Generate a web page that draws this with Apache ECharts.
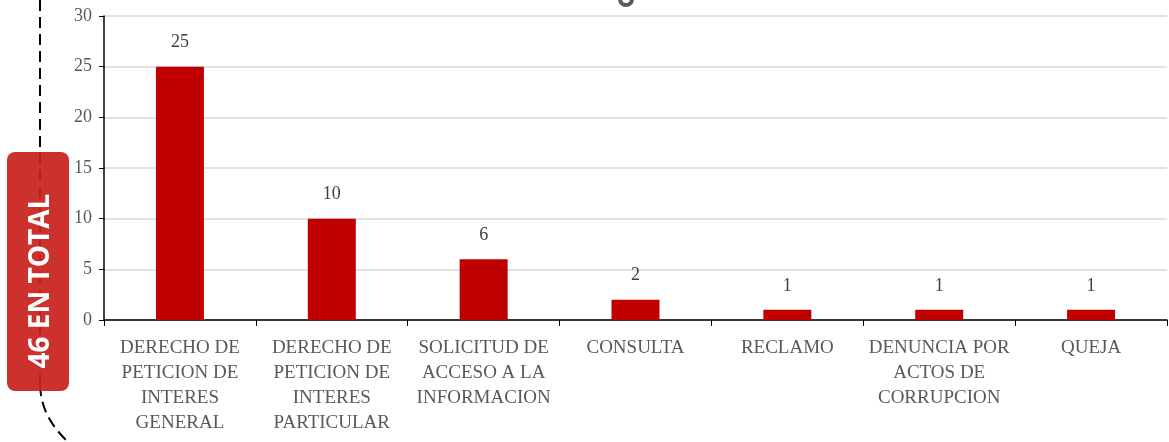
<!DOCTYPE html>
<html>
<head>
<meta charset="utf-8">
<script src="https://cdn.jsdelivr.net/npm/echarts@6/dist/echarts.min.js"></script>
<style>
  html, body { margin: 0; padding: 0; background: #fff; }
  #chart { width: 1169px; height: 442px; }
</style>
</head>
<body>
<div id="chart"></div>
<script>
let categories = [
  'DERECHO DE\nPETICION DE\nINTERES\nGENERAL',
  'DERECHO DE\nPETICION DE\nINTERES\nPARTICULAR',
  'SOLICITUD DE\nACCESO A LA\nINFORMACION',
  'CONSULTA',
  'RECLAMO',
  'DENUNCIA POR\nACTOS DE\nCORRUPCION',
  'QUEJA'
]
let values = [25, 10, 6, 2, 1, 1, 1]
let totalText = '46 EN TOTAL'

let myChart = echarts.init(document.getElementById('chart'))
myChart.setOption({
  animation: false,
  grid: {
    left: 104,
    right: 2,
    top: 16,
    bottom: 122,
    outerBoundsMode: 'none'
  },
  xAxis: {
    type: 'category',
    data: categories,
    axisLine: { lineStyle: { color: '#000', width: 1.5 } },
    axisTick: { show: true, length: 6, lineStyle: { color: '#000' } },
    axisLabel: {
      interval: 0,
      margin: 16,
      color: '#595959',
      fontFamily: 'Liberation Serif',
      fontSize: 19,
      lineHeight: 25
    }
  },
  yAxis: {
    type: 'value',
    min: 0,
    max: 30,
    interval: 5,
    axisLine: { show: true, lineStyle: { color: '#000', width: 1.5 } },
    axisTick: { show: true, length: 5, lineStyle: { color: '#000' } },
    splitLine: { lineStyle: { color: '#d9d9d9', width: 1.5 } },
    axisLabel: {
      margin: 12,
      color: '#595959',
      fontFamily: 'Liberation Serif',
      fontSize: 18
    }
  },
  series: [
    {
      type: 'bar',
      data: values,
      barWidth: 48,
      itemStyle: { color: '#c00000' },
      label: {
        show: true,
        position: 'top',
        distance: 15,
        color: '#404040',
        fontFamily: 'Liberation Serif',
        fontSize: 18
      }
    }
  ],
  graphic: [
    {
      type: 'line',
      z: 10,
      shape: { x1: 40, y1: 0, x2: 40, y2: 385 },
      style: { stroke: '#000', lineWidth: 2, lineDash: [11, 6] }
    },
    {
      type: 'bezierCurve',
      z: 10,
      shape: { x1: 40, y1: 385, cpx1: 41, cpy1: 408, cpx2: 50, cpy2: 424, x2: 66, y2: 440 },
      style: { stroke: '#000', lineWidth: 2, lineDash: [11, 6], fill: null }
    },
    {
      type: 'rect',
      z: 11,
      shape: { x: 7, y: 152, width: 62, height: 239, r: 8 },
      style: { fill: '#c9211e', opacity: 0.93 }
    },
    {
      type: 'text',
      z: 12,
      x: 41,
      y: 281,
      rotation: Math.PI / 2,
      style: {
        text: totalText,
        fill: '#fff',
        font: 'bold 28px "Open Sans"',
        align: 'center',
        verticalAlign: 'middle'
      }
    },
    {
      type: 'circle',
      z: 10,
      shape: { cx: 626, cy: -1, r: 6 },
      style: { fill: null, stroke: '#595959', lineWidth: 4 }
    }
  ]
})
</script>
</body>
</html>
